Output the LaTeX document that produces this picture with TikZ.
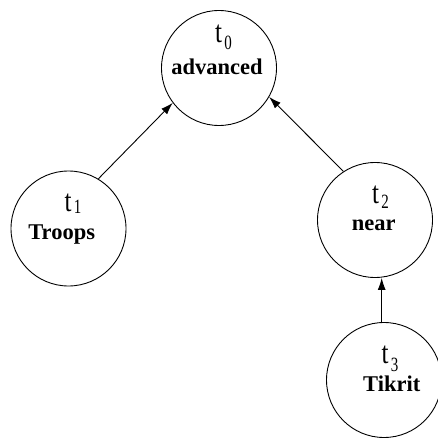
\documentclass[tikz,border=0pt]{standalone}
\usepackage{fontspec}
\setmainfont{Liberation Serif}
\usepackage{graphicx}
\usetikzlibrary{arrows.meta}
\newcommand{\tlab}[2]{\smash{\scalebox{1}[1.25]{\fontsize{25}{25}\selectfont t}\kern2.5pt\raisebox{-#2pt}{\scalebox{1}[1.35]{\fontsize{15}{15}\selectfont #1}}}}
\begin{document}
\begin{tikzpicture}[x=1pt,y=-1pt,
  tnode/.style={circle,draw,line width=0.9pt,minimum size=115pt,inner sep=0pt},
  word/.style={anchor=base,inner sep=0pt,font=\fontsize{22.5}{22.5}\selectfont\bfseries},
  idx/.style={anchor=base,inner sep=0pt},
  conn/.style={line width=0.9pt,-{Latex[length=12pt,width=8pt]}}]
\path[use as bounding box,fill=white] (0,0) rectangle (437,438);
\node[tnode] (t0) at (219,68) {};
\node[tnode] (t1) at (68.5,228.5) {};
\node[tnode] (t2) at (375,220) {};
\node[tnode] (t3) at (384,380) {};
\node[idx] (t0i) at (223.5,43) {\tlab{0}{7}};
\node[word] (t0w) at (217,75) {advanced};
\node[idx] (t1i) at (73,211.7) {\tlab{1}{2}};
\node[word] (t1w) at (61.7,239.3) {Troops};
\node[idx] (t2i) at (380.5,203) {\tlab{2}{5}};
\node[word] (t2w) at (373.8,230) {near};
\node[idx] (t3i) at (390,363) {\tlab{3}{8}};
\node[word] (t3w) at (391.7,391.7) {Tikrit};
\draw[conn] (t1.59) -- (t0.217);
\draw[conn] (t2.123) -- (t0.330);
\draw[conn] (t3.north -| 381.7,0) -- (t2.south -| 381.7,0);
\end{tikzpicture}
\end{document}
